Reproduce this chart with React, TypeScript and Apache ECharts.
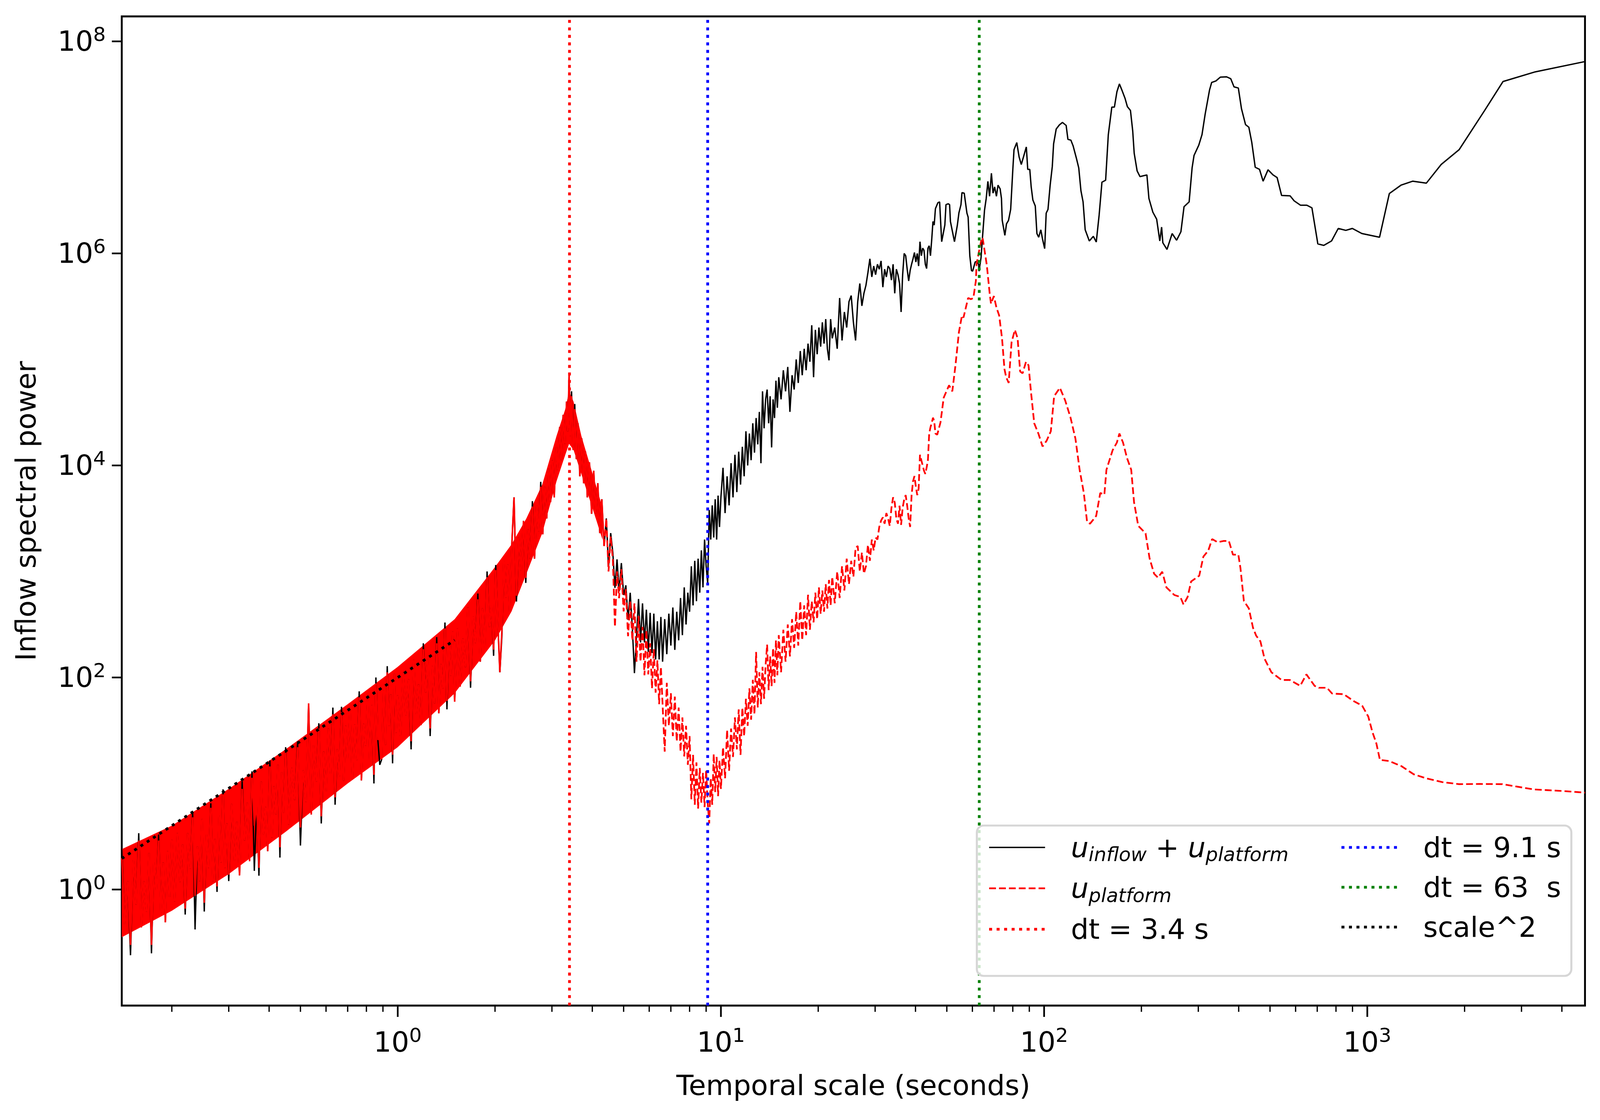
import React, { useEffect, useRef } from "react";
import * as echarts from "echarts";

// ---------- values ----------
// dense low-scale part, shared scale grid for both spectra
const noiseScale = [
  0.140, 0.143, 0.146, 0.149, 0.152, 0.155, 0.158, 0.161, 0.164, 0.167, 0.170, 0.173, 0.176, 0.179, 0.182, 0.185, 0.188, 0.191, 0.194, 0.197, 0.200,
  0.204, 0.208, 0.212, 0.216, 0.220, 0.224, 0.228, 0.232, 0.236, 0.240, 0.244, 0.248, 0.252, 0.256, 0.260, 0.264, 0.268, 0.272, 0.276, 0.280, 0.284, 0.288, 0.292, 0.296, 0.300,
  0.306, 0.312, 0.318, 0.324, 0.330, 0.336, 0.342, 0.348, 0.354, 0.360, 0.366, 0.372, 0.378, 0.384, 0.390, 0.396, 0.402, 0.408, 0.414, 0.420, 0.426, 0.432, 0.438, 0.444, 0.450,
  0.46, 0.47, 0.48, 0.49, 0.50, 0.51, 0.52, 0.53, 0.54, 0.55, 0.56, 0.57, 0.58, 0.59, 0.60, 0.61, 0.62, 0.63, 0.64, 0.65, 0.66, 0.67, 0.68, 0.69, 0.70,
  0.712, 0.724, 0.736, 0.748, 0.760, 0.772, 0.784, 0.796, 0.808, 0.820, 0.832, 0.844, 0.856, 0.868, 0.880, 0.892, 0.904, 0.916, 0.928, 0.940, 0.952, 0.964, 0.976, 0.988, 1.000,
  1.02, 1.04, 1.06, 1.08, 1.10, 1.12, 1.14, 1.16, 1.18, 1.20, 1.22, 1.24, 1.26, 1.28, 1.30, 1.32, 1.34, 1.36, 1.38, 1.40, 1.42, 1.44, 1.46, 1.48, 1.50,
  1.53, 1.56, 1.59, 1.62, 1.65, 1.68, 1.71, 1.74, 1.77, 1.80, 1.83, 1.86, 1.89, 1.92, 1.95, 1.98, 2.01, 2.04, 2.07, 2.10, 2.13, 2.16, 2.19, 2.22, 2.25,
  2.29, 2.33, 2.37, 2.41, 2.45, 2.49, 2.53, 2.57, 2.61, 2.65, 2.69, 2.73, 2.77, 2.81, 2.85, 2.89, 2.93, 2.97, 3.01, 3.05, 3.09, 3.13, 3.17, 3.21, 3.25, 3.29,
  3.33, 3.36, 3.39, 3.42, 3.45, 3.49, 3.53, 3.57, 3.61, 3.66, 3.71, 3.76, 3.81, 3.86, 3.92, 3.98, 4.04, 4.10, 4.16, 4.22, 4.28, 4.35, 4.42, 4.49, 4.56, 4.63, 4.70, 4.77, 4.84, 4.92, 5.00,
  5.08, 5.16, 5.24, 5.32, 5.40, 5.48, 5.56, 5.64, 5.72, 5.80, 5.88, 5.96, 6.04, 6.12, 6.20, 6.28, 6.36, 6.44, 6.52, 6.60,
];
const platformNoise = [
  2.0, 0.47, 1.2, 0.30, 1.9, 0.72, 2.9, 0.44, 1.2, 0.62, 2.2, 0.30, 1.9, 0.95, 2.9, 0.6, 1.8, 0.49, 2.3, 0.85, 2.95,
  0.77, 3.4, 1.18, 2.65, 0.66, 3.4, 1.57, 4.8, 0.87, 2.55, 1.2, 4.6, 0.75, 3.3, 1.6, 5.9, 1.2, 3.0, 1.07, 5.0, 1.8, 7.9, 1.6, 4.2, 1.38,
  6.4, 1.87, 4.35, 1.36, 8.9, 2.9, 6.6, 1.85, 11.3, 4.0, 6.5, 1.6, 10.4, 3.3, 6.0, 2.3, 14.5, 3.1, 9.4, 5.1, 15, 2.5, 12.8, 5.3, 19.5,
  4.1, 14, 7.0, 22, 3.85, 13.3, 6.7, 57, 5.1, 23, 10.4, 33, 4.9, 20, 8.4, 33, 12.4, 45, 7.4, 21, 11.7, 47, 10.6, 35, 16.4,
  48, 11, 36, 16.6, 65, 10.7, 36.5, 22.7, 66, 16, 55, 12.1, 88, 25.7, 42, 16.9, 76, 23.2, 112, 35, 69, 18.7, 108, 30, 68,
  28, 112, 44, 96, 25, 147, 45, 86, 35.5, 185, 72, 149, 33, 128, 57, 210, 46, 134, 79, 290, 60, 208, 104, 271, 59,
  290, 82, 232, 125, 457, 92, 375, 212, 547, 141, 449, 192, 883, 300, 479, 183, 1030, 336, 112, 275, 1260, 568, 1160, 415, 1580,
  5000, 590, 2100, 1020, 3000, 870, 2500, 1320, 4100, 1320, 4200, 2400, 6300, 2240, 6300, 3160, 9300, 4500, 11200, 5000, 15000, 9100, 23000, 11200, 30000, 16000,
  40000, 21000, 72000, 19000, 45000, 14000, 34000, 11500, 25000, 7900, 18000, 6800, 13500, 5000, 10700, 3500, 8900, 3500, 6800, 2300, 4800, 1740, 3160, 1000, 2140, 1300, 300, 1000, 560, 1050, 420,
  680, 245, 525, 224, 500, 141, 380, 141, 300, 105, 280, 107, 210, 79, 186, 72, 145, 56, 126, 55,
];
const totalNoise = [
  2.4, 0.47, 1.2, 0.24, 1.9, 0.72, 3.4, 0.44, 1.2, 0.62, 2.2, 0.25, 1.9, 0.95, 3.3, 0.6, 1.8, 0.49, 2.3, 0.85, 2.95,
  0.77, 3.4, 1.18, 2.65, 0.58, 3.4, 1.57, 5.4, 0.42, 2.55, 1.2, 4.6, 0.62, 3.3, 1.6, 6.5, 1.2, 3.0, 0.95, 5.0, 1.8, 8.8, 1.6, 4.2, 1.2,
  6.4, 1.87, 4.35, 1.36, 10.5, 2.9, 6.6, 1.85, 13, 1.5, 6.5, 1.35, 10.4, 3.3, 6.0, 2.3, 16.5, 3.1, 9.4, 5.1, 15, 2.0, 12.8, 5.3, 22,
  4.1, 14, 7.0, 25, 2.6, 13.3, 6.7, 57, 5.1, 23, 10.4, 37, 4.2, 20, 8.4, 33, 12.4, 52, 6.3, 21, 11.7, 53, 10.6, 35, 16.4,
  48, 11, 36, 16.6, 74, 10.7, 36.5, 22.7, 66, 16, 55, 10, 100, 25.7, 15, 16.9, 76, 23.2, 128, 35, 69, 15.5, 108, 30, 68,
  28, 112, 44, 96, 21, 147, 45, 86, 35.5, 210, 72, 149, 28, 128, 57, 240, 46, 134, 79, 330, 50, 208, 104, 271, 59,
  290, 82, 232, 125, 457, 80, 375, 212, 620, 141, 449, 192, 1000, 300, 479, 160, 1150, 336, 112, 240, 1260, 568, 1160, 415, 1580,
  5000, 520, 2100, 1020, 3000, 780, 2500, 1320, 4600, 1320, 4200, 2400, 7000, 2240, 6300, 3160, 9300, 4500, 11200, 5000, 15000, 9100, 23000, 11200, 30000, 16000,
  40000, 21000, 72000, 19000, 50000, 14000, 38000, 11500, 25000, 7900, 18000, 6800, 13500, 5000, 10700, 3500, 8900, 3500, 6800, 2300, 4800, 1740, 3160, 1100, 2300, 1500, 700, 1300, 650, 1200, 600,
  740, 350, 630, 295, 110, 240, 550, 214, 500, 214, 436, 174, 407, 170, 400, 148, 339, 148, 372, 141,
];
// solid core of the dense band (upper / lower edge where the ink is continuous)
const bandScale = [0.14, 0.2, 0.3, 0.45, 0.7, 1.0, 1.5, 2.0, 2.25, 2.5, 2.8, 3.1, 3.3, 3.39, 3.5, 3.7, 4.0, 4.3];
const bandTop = [2.4, 4.0, 8.9, 21, 56, 126, 355, 1100, 1800, 3160, 6600, 19000, 34000, 50000, 40000, 19000, 8500, 4000];
const bandBottom = [0.355, 0.63, 1.4, 3.5, 10, 22, 71, 224, 420, 950, 2300, 7100, 12600, 16000, 14000, 8300, 4000, 2000];

// middle part (both spectra on the same grid)
const midScale = [
  6.7, 6.8, 6.9, 7.0, 7.1, 7.2, 7.3, 7.4, 7.5, 7.6, 7.7, 7.8, 7.9, 8.0, 8.1, 8.2, 8.3, 8.4, 8.5, 8.6, 8.7, 8.8, 8.9, 9.0, 9.1, 9.2, 9.3, 9.4, 9.5, 9.6, 9.7, 9.8, 9.9, 10.0,
  10.15, 10.3, 10.45, 10.6, 10.75, 10.9, 11.05, 11.2, 11.35, 11.5, 11.65, 11.8, 11.95, 12.1, 12.25, 12.4, 12.55, 12.7, 12.85, 13.0, 13.15, 13.3, 13.45, 13.6, 13.75, 13.9, 14.05, 14.2, 14.35, 14.5, 14.65, 14.8, 14.95, 15.1,
  15.35, 15.6, 15.85, 16.1, 16.35, 16.6, 16.85, 17.1, 17.35, 17.6, 17.85, 18.1, 18.35, 18.6, 18.85, 19.1, 19.35, 19.6, 19.85, 20.1, 20.35, 20.6, 20.85, 21.1, 21.35, 21.6, 21.85, 22.1,
  22.5, 22.9, 23.3, 23.7, 24.1, 24.5, 24.9, 25.3, 25.7, 26.1, 26.5, 26.9, 27.3, 27.7, 28.1, 28.5, 28.9, 29.3, 29.7, 30.1, 30.5, 30.9, 31.3, 31.7, 32.1, 32.5, 32.9, 33.3, 33.7, 34.1,
  34.5, 34.9, 35.3, 35.7, 36.1, 36.5, 36.9, 37.3, 37.7, 38.1, 38.5, 38.9, 39.3, 39.7, 40.1, 40.5, 40.9, 41.3, 41.7, 42.1, 42.5, 42.9, 43.3, 43.7, 44.1, 44.5, 44.9, 45.3, 45.7, 46.1,
];
const totalMid = [
  355, 166, 400, 200, 457, 182, 417, 224, 562, 251, 708, 316, 631, 417, 1120, 479, 1260, 525, 1320, 631, 1580, 708, 2000, 1120, 776, 3800, 2000, 4200, 2090, 4800, 2000, 5200, 2630, 5000,
  9500, 3550, 7900, 4200, 10500, 5000, 12600, 5600, 13500, 6600, 15000, 7900, 21000, 10000, 20000, 11200, 25000, 13200, 28000, 15800, 32000, 10500, 50000, 22400, 42000, 52000, 25000, 45000, 14800, 42000, 28000, 63000, 35000, 68000,
  42000, 79000, 50000, 85000, 32000, 71000, 52000, 100000, 60000, 120000, 71000, 126000, 79000, 141000, 95000, 210000, 68000, 190000, 112000, 200000, 132000, 224000, 141000, 240000, 126000, 98000, 240000, 158000,
  200000, 126000, 380000, 151000, 280000, 200000, 350000, 400000, 224000, 151000, 350000, 520000, 320000, 420000, 500000, 660000, 890000, 600000, 760000, 630000, 790000, 710000, 850000, 480000, 710000, 600000, 760000, 720000, 560000, 790000,
  420000, 710000, 630000, 520000, 280000, 630000, 1000000, 950000, 710000, 550000, 690000, 790000, 890000, 1020000, 830000, 1000000, 760000, 1290000, 950000, 1120000, 1070000, 790000, 720000, 1120000, 1180000, 950000, 1350000, 2000000, 1850000, 2640000,
];
const platformMid = [
  20, 89, 35, 71, 28, 66, 25, 52, 20, 42, 18, 35, 15, 28, 7.1, 18.6, 6.3, 15.8, 5.8, 14, 6.6, 12.6, 6.0, 13.5, 6.6, 4.2, 11.2, 6.3, 19, 8.3, 17.8, 7.6, 16.6, 8.9,
  22, 11.2, 32, 13.2, 33, 17.8, 42, 21, 50, 18.6, 52, 28, 63, 35, 79, 40, 95, 45, 174, 52, 112, 56, 126, 63, 132, 204, 76, 158, 83, 190, 89, 224, 105, 251,
  112, 282, 141, 316, 158, 355, 190, 417, 200, 525, 224, 479, 251, 603, 282, 525, 331, 631, 355, 708, 398, 661, 417, 759, 447, 832, 479, 891,
  501, 1000, 562, 1120, 661, 1320, 759, 1260, 891, 1660, 1740, 1000, 1510, 955, 1120, 1780, 1260, 2000, 1580, 2090, 2000, 2630, 3020, 3240, 2820, 3550, 3160, 2690, 3980, 5010,
  4470, 3160, 2820, 4170, 2750, 3980, 4790, 5250, 4170, 3160, 2630, 5250, 7080, 7940, 6310, 5250, 6030, 12600, 11200, 10000, 8910, 8320, 9550, 11200, 20000, 22900, 25100, 28200, 26300, 20000,
];

// long-scale part of u_inflow + u_platform
const totalTailScale = [
  46.9, 47.5, 48.2, 49.3, 49.7, 50.5, 51.0, 51.3, 52.8, 53.9, 54.5, 55.3, 55.7, 56.6, 57.7, 58.2, 58.9, 59.6, 60.1, 61.2,
  61.9, 62.7, 62.9, 63.8, 64.6, 65.4, 66.2, 67.0, 67.8, 68.7, 69.5, 70.3, 71.2, 72.0, 73.1, 73.8, 74.2, 75.6, 76.5, 77.6,
  78.8, 80.0, 80.7, 82.3, 83.7, 85.0, 86.3, 88.1, 89.0, 90.3, 91.2, 92.3, 93.9, 95.0, 96.2, 97.7, 98.9, 100.4, 101.5, 102.8,
  104.4, 106, 107, 109, 111.5, 114, 117, 118.5, 121, 123, 126, 128, 130, 132, 134, 138, 142, 145, 148, 151,
  155, 158, 162, 165, 168, 171, 174, 178, 181, 185, 188, 190, 194, 198, 208, 211, 217, 223, 228, 231,
  233, 240, 249, 257, 265, 271, 281, 287, 291, 301, 308, 315, 325, 330, 340, 351, 367, 378, 387, 399,
  408, 420, 430, 439, 450, 464, 476, 493, 511, 526, 543, 577, 594, 621, 650, 674, 703, 733, 775, 813,
  858, 899, 962, 1091, 1170, 1271, 1383, 1523, 1693, 1923, 2307, 2630, 3311, 4716,
];
const totalTail = [
  3.0e6, 3.06e6, 1.29e6, 1.85e6, 2.88e6, 2.94e6, 2.88e6, 2.0e6, 1.29e6, 1.85e6, 2.41e6, 2.88e6, 3.75e6, 3.7e6, 2.4e6, 2.2e6, 9.5e5, 6.9e5, 6.8e5, 8.3e5,
  8.4e5, 7.9e5, 6.8e5, 9.1e5, 1.54e6, 2.55e6, 3.3e6, 4.78e6, 3.46e6, 5.7e6, 3.7e6, 4.24e6, 3.46e6, 4.4e6, 4.06e6, 3.3e6, 2.05e6, 1.48e6, 1.9e6, 2.05e6,
  2.6e6, 6.1e6, 9.5e6, 1.11e7, 8.1e6, 6.9e6, 8.1e6, 1.01e7, 6.2e6, 6.2e6, 4.24e6, 3.19e6, 2.8e6, 1.54e6, 1.42e6, 1.67e6, 1.36e6, 1.11e6, 2.4e6, 2.6e6,
  4.4e6, 6.6e6, 1.08e7, 1.49e7, 1.63e7, 1.72e7, 1.61e7, 1.19e7, 1.17e7, 1.03e7, 7.8e6, 6.4e6, 3.9e6, 3.06e6, 1.67e6, 1.31e6, 1.45e6, 1.28e6, 2.3e6, 4.7e6,
  4.9e6, 1.32e7, 2.4e7, 2.4e7, 3.35e7, 3.97e7, 3.48e7, 2.9e7, 2.42e7, 2.23e7, 1.43e7, 8.8e6, 6.0e6, 5.3e6, 5.5e6, 3.3e6, 2.45e6, 2.1e6, 1.31e6, 1.77e6,
  1.26e6, 1.09e6, 1.54e6, 1.33e6, 1.6e6, 2.76e6, 3.06e6, 6.4e6, 8.4e6, 1.05e7, 1.32e7, 2.06e7, 3.48e7, 4.1e7, 4.23e7, 4.6e7, 4.63e7, 4.44e7, 3.72e7, 3.63e7,
  2.32e7, 1.64e7, 1.55e7, 1.12e7, 6.5e6, 6.2e6, 4.8e6, 6.15e6, 5.5e6, 5.19e6, 3.52e6, 3.49e6, 3.13e6, 2.85e6, 2.85e6, 2.69e6, 1.23e6, 1.19e6, 1.31e6, 1.72e6,
  1.65e6, 1.72e6, 1.54e6, 1.42e6, 3.67e6, 4.4e6, 4.8e6, 4.6e6, 6.9e6, 9.5e6, 2.23e7, 4.18e7, 5.16e7, 6.45e7,
];

// long-scale part of u_platform
const platformTailScale = [
  46.7, 47.8, 48.9, 50.8, 52.0, 53.2, 54.5, 55.7, 56.3, 58.2, 59.4, 60.4, 61.5, 61.8, 62.7, 64.2, 64.6, 66.5, 67.9, 68.5,
  69.9, 71.2, 72.6, 74.1, 75.4, 76.3, 77.7, 79.3, 81.2, 82.8, 84.3, 85.8, 87.9, 89.5, 91.1, 93.2, 96.0, 98.9, 101.8, 104.9,
  107.4, 111.9, 116.2, 120.7, 125, 128.8, 132.7, 135.8, 138.7, 144.9, 149.2, 153.6, 155.9, 162.9, 167.9, 171, 175.5, 180.6, 186, 189.8,
  195.5, 206, 212, 219, 225, 232, 239, 253, 264, 270, 278, 285, 302, 311, 322, 331, 344, 360, 373, 384,
  399, 405, 415, 430, 443, 453, 467, 481, 505, 543, 576, 620, 648, 687, 708, 750, 778, 846, 909, 964,
  1007, 1037, 1067, 1094, 1167, 1274, 1393, 1521, 1708, 1922, 2228, 2617, 3266, 4009, 4716,
];
const platformTail = [
  1.95e4, 2.55e4, 4.36e4, 5.7e4, 5.0e4, 8.9e4, 1.81e5, 2.6e5, 2.48e5, 3.8e5, 3.7e5, 3.8e5, 5.5e5, 7.9e5, 1.0e6, 1.41e6, 1.37e6, 7.7e5, 4.1e5, 3.35e5,
  3.96e5, 3.09e5, 2.6e5, 1.58e5, 8.1e4, 6.8e4, 6.0e4, 1.45e5, 1.9e5, 1.58e5, 7.7e4, 7.4e4, 9.5e4, 8.8e4, 4.9e4, 2.5e4, 2.0e4, 1.51e4, 1.71e4, 2.1e4,
  4.5e4, 5.4e4, 4.1e4, 2.83e4, 1.79e4, 9.1e3, 5.5e3, 2.94e3, 2.82e3, 3.34e3, 5.5e3, 5.3e3, 9.1e3, 1.39e4, 1.64e4, 2.0e4, 1.64e4, 1.17e4, 9.1e3, 4.5e3,
  2.7e3, 2.29e3, 1.33e3, 951, 875, 994, 708, 599, 575, 488, 575, 804, 912, 1380, 1570, 2020, 1890, 1940, 1940, 1440,
  1440, 1080, 528, 448, 294, 248, 219, 150, 112, 94.7, 94.7, 83.4, 107, 83.4, 80, 80, 70.6, 69.5, 59.7, 54.2,
  42.8, 30.6, 23.8, 16.7, 16.3, 14.6, 12.2, 11.2, 10.3, 9.86, 9.9, 9.86, 8.8, 8.5, 8.2,
];

// reference lines
const dtScales = [3.4, 9.1, 63];
const scaleSquaredScale = [0.14, 1.5];
const scaleSquaredPower = [1.96, 225];

// axes
const X_MIN = 0.14;
const X_MAX = 4716;
const Y_MIN = 0.0804;
const Y_MAX = 1.72e8;
const xMajorTicks = [1, 10, 100, 1000];
const xMinorTicks = [
  0.2, 0.3, 0.4, 0.5, 0.6, 0.7, 0.8, 0.9,
  2, 3, 4, 5, 6, 7, 8, 9,
  20, 30, 40, 50, 60, 70, 80, 90,
  200, 300, 400, 500, 600, 700, 800, 900,
  2000, 3000, 4000,
];
const yMajorTicks = [1, 100, 1e4, 1e6, 1e8];

const FONT = "DejaVu Sans";
const REF_W = 4691;
const REF_H = 2868;

const zip = (xs: number[], ys: number[]) =>
  xs.slice(0, Math.min(xs.length, ys.length)).map((x, i) => [x, ys[i]]);

const powLabel = (v: number, step: number) => {
  const l = Math.log10(v);
  const e = Math.round(l);
  if (Math.abs(l - e) > 1e-6 || e % step !== 0) return "";
  return `{b|10}{s|${e}}`;
};

const legendLabels: Record<string, string> = {
  total: "{g| }{u|u}{sub|inflow}{op| + }{u|u}{sub|platform}",
  platform: "{g| }{u|u}{sub|platform}",
  dt34: "{g| }{t|dt = 3.4 s}",
  dt91: "{g| }{t|dt = 9.1 s}",
  dt63: "{g| }{t|dt = 63  s}",
  scale2: "{g| }{t|scale^2}",
};

const App = () => {
  const chartRef = useRef<HTMLDivElement>(null);

  useEffect(() => {
    const el = chartRef.current!;
    const W = el.clientWidth || REF_W;
    const H = el.clientHeight || REF_H;
    const sx = W / REF_W;
    const sy = H / REF_H;
    const s = Math.min(sx, sy);
    const X = (v: number) => v * sx;
    const Y = (v: number) => v * sy;
    const S = (v: number) => v * s;
    const FS = S(82);

    const chart = echarts.init(el, null, { renderer: "svg" });

    const powRich = {
      b: { fontSize: FS, lineHeight: S(100), fontFamily: FONT, color: "#000" },
      s: { fontSize: S(58), lineHeight: S(57), verticalAlign: "top", fontFamily: FONT, color: "#000" },
    };
    const legendRich = {
      g: { width: S(70), fontSize: FS, lineHeight: S(98), fontFamily: FONT },
      u: { fontStyle: "italic", fontSize: FS, lineHeight: S(98), fontFamily: FONT, color: "#000" },
      sub: { fontStyle: "italic", fontSize: S(57), lineHeight: S(57), verticalAlign: "bottom", fontFamily: FONT, color: "#000" },
      op: { fontSize: FS, lineHeight: S(98), fontFamily: FONT, color: "#000" },
      t: { fontSize: FS, lineHeight: S(98), fontFamily: FONT, color: "#000" },
    };

    const tickSeries = (data: number[][], axis: "x" | "y") => ({
      type: "custom",
      coordinateSystem: "cartesian2d",
      silent: true,
      clip: false,
      z: 5,
      data,
      renderItem: (params: any, api: any) => {
        const cs = params.coordSys;
        const len = api.value(2);
        const w = S(len > 20 ? 5 : 3.8);
        if (axis === "x") {
          const x = api.coord([api.value(0), Y_MIN])[0];
          const y0 = cs.y + cs.height;
          return { type: "line", shape: { x1: x, y1: y0, x2: x, y2: y0 + Y(len) }, style: { stroke: "#000", lineWidth: w } };
        }
        const y = api.coord([X_MIN, api.value(1)])[1];
        return { type: "line", shape: { x1: cs.x - X(len), y1: y, x2: cs.x, y2: y }, style: { stroke: "#000", lineWidth: w } };
      },
    });

    // filled core of the dense red band, drawn through the axes
    const bandSeries = {
      type: "custom",
      coordinateSystem: "cartesian2d",
      silent: true,
      z: 2,
      data: [[bandScale[0], bandBottom[0]]],
      renderItem: (_params: any, api: any) => {
        const top = bandScale.map((x, i) => api.coord([x, bandTop[i]]));
        const bottom = bandScale.map((x, i) => api.coord([x, bandBottom[i]])).reverse();
        return { type: "polygon", shape: { points: [...top, ...bottom] }, style: { fill: "#ff0000" } };
      },
    };

    const redNoise = zip(noiseScale, platformNoise);
    const redSolid = redNoise.filter((p) => p[0] <= 4.35);
    const redDashed = [
      ...redNoise.filter((p) => p[0] >= 4.35),
      ...zip(midScale, platformMid),
      ...zip(platformTailScale, platformTail),
    ];
    const black = [
      ...zip(noiseScale, totalNoise),
      ...zip(midScale, totalMid),
      ...zip(totalTailScale, totalTail),
    ];
    const dotted = [S(8.7), S(13.3)];
    const vline = (name: string, x: number, color: string) => ({
      name,
      type: "line",
      data: [[x, Y_MIN], [x, Y_MAX]],
      symbol: "none",
      silent: true,
      z: 3,
      itemStyle: { color },
      lineStyle: { color, width: S(8), type: dotted },
    });

    const legendCommon = {
      orient: "vertical", selectedMode: false, padding: 0,
      itemGap: Y(22), itemWidth: X(164), itemHeight: Y(100),
      itemStyle: { opacity: 0 },
      lineStyle: { width: "inherit" },
      textStyle: { fontSize: FS, color: "#000", fontFamily: FONT, rich: legendRich },
      formatter: (name: string) => legendLabels[name] ?? name,
      z: 10,
    };

    const option = {
      animation: false,
      textStyle: { fontFamily: FONT },
      grid: {
        left: X(357), top: Y(42), width: X(4290), height: Y(2533),
        show: true, borderColor: "#000", borderWidth: S(5.5), backgroundColor: "transparent",
      },
      xAxis: {
        type: "log", logBase: 10, min: X_MIN, max: X_MAX,
        axisLine: { show: false }, axisTick: { show: false }, splitLine: { show: false },
        axisLabel: {
          margin: Y(50), showMinLabel: false, showMaxLabel: false,
          formatter: (v: number) => powLabel(v, 1), rich: powRich,
        },
        name: "Temporal scale (seconds)", nameLocation: "middle", nameGap: Y(168),
        nameTextStyle: { fontSize: FS, color: "#000", fontFamily: FONT },
      },
      yAxis: {
        type: "log", logBase: 10, min: Y_MIN, max: Y_MAX,
        axisLine: { show: false }, axisTick: { show: false }, splitLine: { show: false },
        axisLabel: {
          margin: X(47), showMinLabel: false, showMaxLabel: false,
          formatter: (v: number) => powLabel(v, 2), rich: powRich,
        },
        name: "Inflow spectral power", nameLocation: "middle", nameGap: X(240),
        nameTextStyle: { fontSize: FS, color: "#000", fontFamily: FONT },
      },
      graphic: [
        {
          type: "rect", z: 8, silent: true,
          shape: { x: X(2864), y: Y(2114), width: X(1743), height: Y(385), r: S(20) },
          style: { fill: "rgba(255,255,255,0.8)", stroke: "#d6d6d6", lineWidth: S(6) },
        },
      ],
      legend: [
        { ...legendCommon, left: X(2896), top: Y(2130), data: ["total", "platform", "dt34"] },
        { ...legendCommon, left: X(3929), top: Y(2130), data: ["dt91", "dt63", "scale2"] },
      ],
      series: [
        {
          name: "total", type: "line", data: black, symbol: "none", silent: true, z: 2,
          itemStyle: { color: "#000" }, lineStyle: { color: "#000", width: S(4) },
        },
        bandSeries,
        {
          name: "platformDense", type: "line", data: redSolid, symbol: "none", silent: true, z: 2,
          itemStyle: { color: "#ff0000" }, lineStyle: { color: "#ff0000", width: S(4.5) },
        },
        {
          name: "platform", type: "line", data: redDashed, symbol: "none", silent: true, z: 2,
          itemStyle: { color: "#ff0000" }, lineStyle: { color: "#ff0000", width: S(5), type: [S(20), S(9)] },
        },
        vline("dt34", dtScales[0], "#ff0000"),
        vline("dt91", dtScales[1], "#0000ff"),
        vline("dt63", dtScales[2], "#008000"),
        {
          name: "scale2", type: "line", data: zip(scaleSquaredScale, scaleSquaredPower),
          symbol: "none", silent: true, z: 3,
          itemStyle: { color: "#000" }, lineStyle: { color: "#000", width: S(8), type: dotted },
        },
        tickSeries([...xMajorTicks.map((t) => [t, Y_MIN, 29]), ...xMinorTicks.map((t) => [t, Y_MIN, 16])], "x"),
        tickSeries(yMajorTicks.map((t) => [X_MIN, t, 29]), "y"),
      ],
    };

    chart.setOption(option as any);
    return () => {
      chart.dispose();
    };
  }, []);

  return (
    <div
      ref={chartRef}
      style={{ position: "fixed", left: 0, top: 0, width: "100vw", height: "100vh", background: "#fff" }}
    />
  );
};

export default App;
